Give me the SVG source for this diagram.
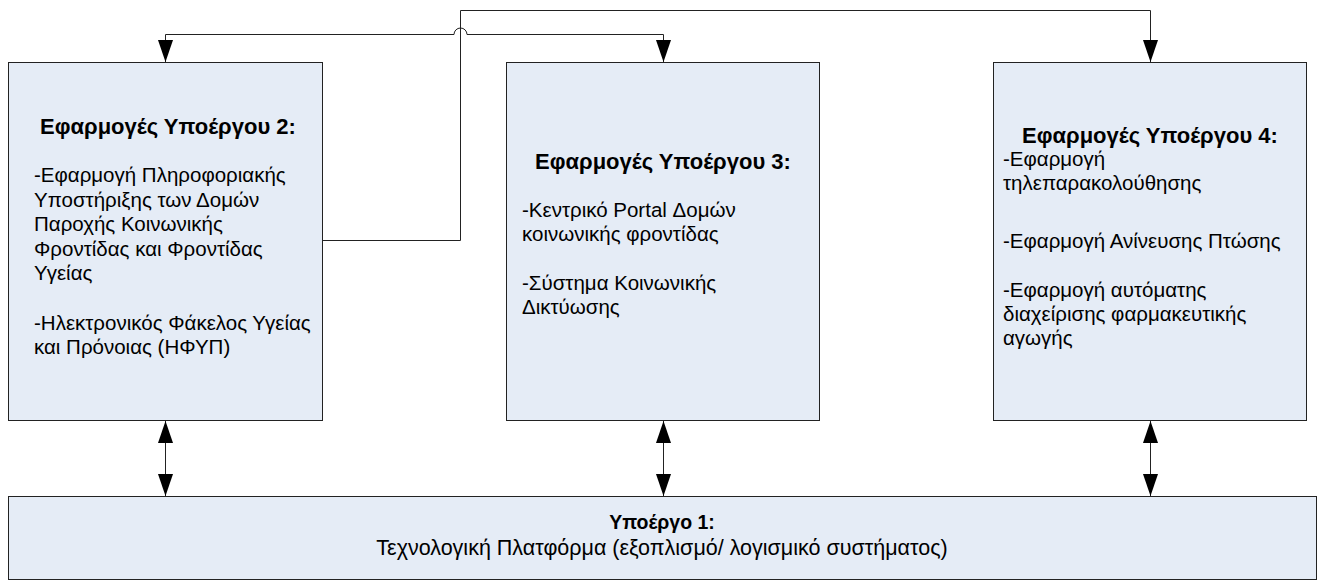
<svg xmlns="http://www.w3.org/2000/svg" width="1323" height="587" viewBox="0 0 1323 587">
<style>
.box{fill:#E5ECF6;stroke:#222;stroke-width:1}
.t{font-family:"Liberation Sans",Arial,sans-serif;font-size:20.5px;fill:#000}
.b{font-weight:bold;text-anchor:middle;font-size:22px}
.c{fill:none;stroke:#222;stroke-width:1}
</style>
<defs>
<marker id="ah" viewBox="0 0 22 15" refX="22" refY="7.5" markerWidth="22" markerHeight="15" markerUnits="userSpaceOnUse" orient="auto-start-reverse">
<path d="M0,0 L22,7.5 L0,15 Z" fill="#000"/>
</marker>
</defs>
<rect width="1323" height="587" fill="#fff"/>
<g id="connectors">
<path class="c" d="M322.5,240.5 H460.5 V10.5 H1150.5 V62" marker-end="url(#ah)"/>
<path class="c" d="M165.5,62 V34.5 H454 A6.5,6.5 0 0 1 467,34.5 H663.5 V62" marker-start="url(#ah)" marker-end="url(#ah)"/>
<path class="c" d="M165.5,421 V496" marker-start="url(#ah)" marker-end="url(#ah)"/>
<path class="c" d="M663.5,421 V496" marker-start="url(#ah)" marker-end="url(#ah)"/>
<path class="c" d="M1150.5,421 V496" marker-start="url(#ah)" marker-end="url(#ah)"/>
</g>
<g id="node-sub2">
<rect class="box" x="8.5" y="62.5" width="314" height="358"/>
<text class="t b" x="168" y="134">Εφαρμογές Υποέργου 2:</text>
<text class="t" x="34" y="182">-Εφαρμογή Πληροφοριακής</text>
<text class="t" x="34" y="206.6">Υποστήριξης των Δομών</text>
<text class="t" x="34" y="231.2">Παροχής Κοινωνικής</text>
<text class="t" x="34" y="255.8">Φροντίδας και Φροντίδας</text>
<text class="t" x="34" y="280.4">Υγείας</text>
<text class="t" x="34" y="329.6">-Ηλεκτρονικός Φάκελος Υγείας</text>
<text class="t" x="34" y="354.2">και Πρόνοιας (ΗΦΥΠ)</text>
</g>
<g id="node-sub3">
<rect class="box" x="506.5" y="62.5" width="313" height="358"/>
<text class="t b" x="663" y="169">Εφαρμογές Υποέργου 3:</text>
<text class="t" x="522" y="217">-Κεντρικό Portal Δομών</text>
<text class="t" x="522" y="241">κοινωνικής φροντίδας</text>
<text class="t" x="522" y="290">-Σύστημα Κοινωνικής</text>
<text class="t" x="522" y="314">Δικτύωσης</text>
</g>
<g id="node-sub4">
<rect class="box" x="993.5" y="62.5" width="313" height="358"/>
<text class="t b" x="1150" y="143">Εφαρμογές Υποέργου 4:</text>
<text class="t" x="1003" y="166">-Εφαρμογή</text>
<text class="t" x="1003" y="190">τηλεπαρακολούθησης</text>
<text class="t" x="1003" y="248">-Εφαρμογή Ανίνευσης Πτώσης</text>
<text class="t" x="1003" y="297">-Εφαρμογή αυτόματης</text>
<text class="t" x="1003" y="321">διαχείρισης φαρμακευτικής</text>
<text class="t" x="1003" y="345">αγωγής</text>
</g>
<g id="node-sub1">
<rect class="box" x="8.5" y="496.5" width="1308" height="83"/>
<text class="t b" x="662" y="529" style="font-size:19.5px">Υποέργο 1:</text>
<text class="t" x="662" y="555" text-anchor="middle" style="font-size:21.5px">Τεχνολογική Πλατφόρμα (εξοπλισμό/ λογισμικό συστήματος)</text>
</g>
</svg>
